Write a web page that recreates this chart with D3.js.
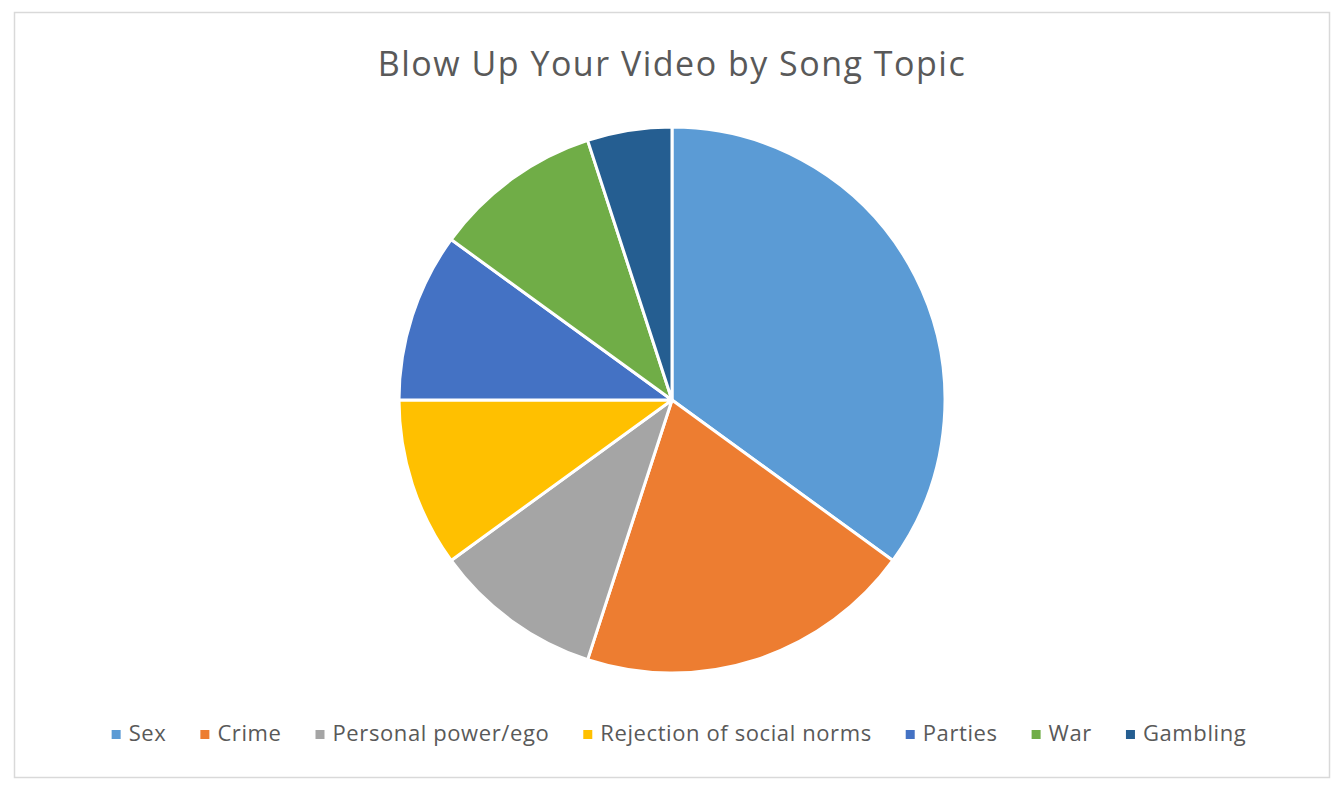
<!DOCTYPE html>
<meta charset="utf-8">
<style>
body { margin: 0; background: #fff; }
text { font-family: "Open Sans", "Noto Sans", sans-serif; fill: #595959; }
</style>
<svg width="1344" height="794"></svg>
<script src="https://d3js.org/d3.v7.min.js"></script>
<script>

var topics = ["Sex", "Crime", "Personal power/ego", "Rejection of social norms", "Parties", "War", "Gambling"];
var counts = [7, 4, 2, 2, 2, 2, 1];
var colours = ["#5B9BD5", "#ED7D31", "#A5A5A5", "#FFC000", "#4472C4", "#70AD47", "#255E91"];
var title = "Blow Up Your Video by Song Topic";

var svg = d3.select("svg");

// chart frame
svg.append("rect")
  .attr("x", 14.5).attr("y", 12.5)
  .attr("width", 1315).attr("height", 765)
  .style("fill", "#fff")
  .style("stroke", "#D9D9D9")
  .style("stroke-width", 1.5);

svg.append("text")
  .attr("x", 672).attr("y", 76)
  .attr("text-anchor", "middle")
  .style("font-size", "34px")
  .style("letter-spacing", "1.5px")
  .text(title);

var data = topics.map(function(t, i) { return {topic: t, value: counts[i], colour: colours[i]}; });

var pie = d3.pie().sort(null).value(function(d) { return d.value; });
var arc = d3.arc().innerRadius(0).outerRadius(273);

var g = svg.append("g").attr("transform", "translate(672,400)");

g.selectAll("path")
  .data(pie(data))
  .enter().append("path")
  .attr("d", arc)
  .style("fill", function(d) { return d.data.colour; })
  .style("stroke", "#fff")
  .style("stroke-width", 3)
  .style("stroke-linejoin", "round");

// legend, laid out left to right then centred
var legend = svg.append("g");
var x = 0;
data.forEach(function(d) {
  var item = legend.append("g").attr("transform", "translate(" + x + ",0)");
  item.append("rect")
    .attr("x", 0).attr("y", -11)
    .attr("width", 9).attr("height", 9)
    .style("fill", d.colour);
  var t = item.append("text")
    .attr("x", 17).attr("y", 0)
    .style("font-size", "22px")
    .style("letter-spacing", "0.6px")
    .text(d.topic);
  x += 17 + t.node().getComputedTextLength() + 34;
});
x -= 34;
legend.attr("transform", "translate(" + (679 - x / 2) + ",741)");

</script>
